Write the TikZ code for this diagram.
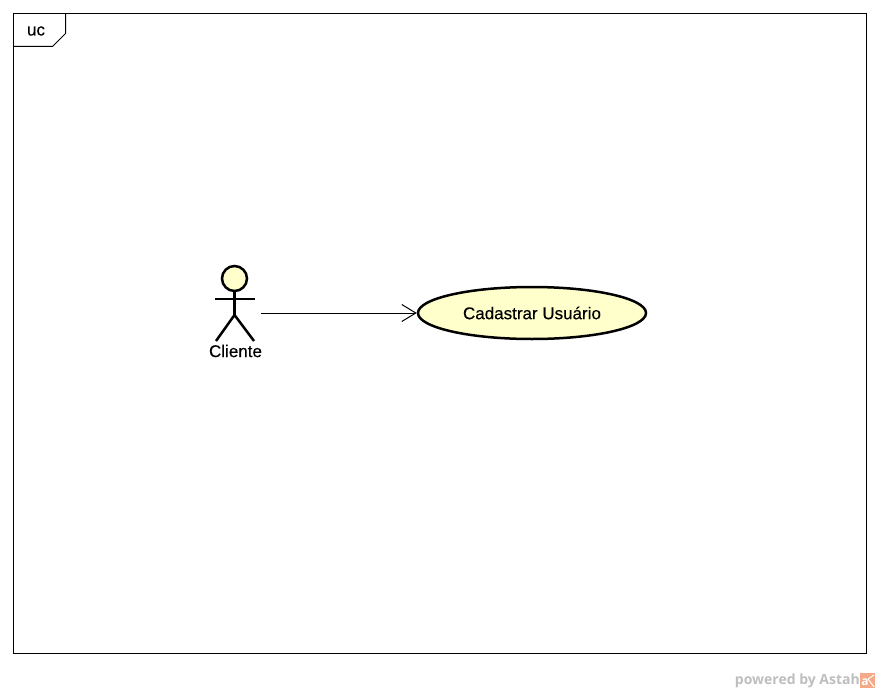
\documentclass[tikz,border=0pt]{standalone}
\usepackage{fontspec}
\setmainfont[FakeBold=0.25]{Liberation Sans}
\newfontfamily\logofont{Open Sans}
\usetikzlibrary{arrows.meta,shapes.geometric}
\definecolor{ucfill}{RGB}{255,255,204}
\definecolor{logogray}{RGB}{190,190,190}
\definecolor{logoorange}{RGB}{244,170,135}

\tikzset{
label/.style={
  rectangle,
  draw=none,
  text centered,
  inner sep=0em,
  font=\fontsize{17}{19}\selectfont,
},
usecase/.style={
  ellipse,
  draw,
  line width=2.5pt,
  fill=ucfill,
  minimum width=228pt,
  minimum height=52pt,
  inner sep=0em,
  font=\fontsize{17}{19}\selectfont,
},
limb/.style={line width=2.5pt},
}

\begin{document}
\begin{tikzpicture}[x=1pt, y=-1pt, >={Straight Barb[length=14pt,width=17pt]}]
\useasboundingbox (0,0) rectangle (880,693);
%frame
\draw[line width=1pt] (13.5,13.5) rectangle (866.5,653.5);
\draw[line width=1pt] (13.5,46.5) -- (52.5,46.5) -- (65.5,33.5) -- (65.5,13.5);
\node[label](frametitle) at (36,31) {uc};

%actor
\node[circle,draw,line width=2.5pt,fill=ucfill,minimum size=25pt,inner sep=0em](head) at (234.5,278.5) {};
\coordinate (neck) at (234.5,291);
\coordinate (hip) at (234.5,315);
\coordinate (armleft) at (215,299);
\coordinate (armright) at (255,299);
\coordinate (legleft) at (216,341);
\coordinate (legright) at (254,341);
\draw[limb] (neck) -- (hip);
\draw[limb] (armleft) -- (armright);
\draw[limb] (legleft) -- (hip) -- (legright);
\node[label](cliente) at (235.5,351) {Cliente};

%use case
\node[usecase](cadastrar) at (532,313) {\raisebox{-2pt}{Cadastrar Usuário}};

\coordinate (clienteport) at (261,313);
\draw[->, line width=1pt] (clienteport) -- (cadastrar);

%logo
\node[label, font=\logofont\bfseries\fontsize{14}{16}\selectfont, text=logogray, anchor=east](powered) at (860,680.5) {powered by Astah};
\node[rectangle, fill=logoorange, minimum size=15pt, inner sep=0em](logo) at (867.5,680.5) {};
\node[label, text=white, font=\logofont\bfseries\fontsize{12}{12}\selectfont](logoa) at (865,682) {a};
\coordinate (logotop) at (874,675);
\coordinate (logomid) at (868,679);
\coordinate (logoend) at (874,687);
\draw[white, line width=1pt] (logotop) -- (logomid) -- (logoend);
\end{tikzpicture}
\end{document}
